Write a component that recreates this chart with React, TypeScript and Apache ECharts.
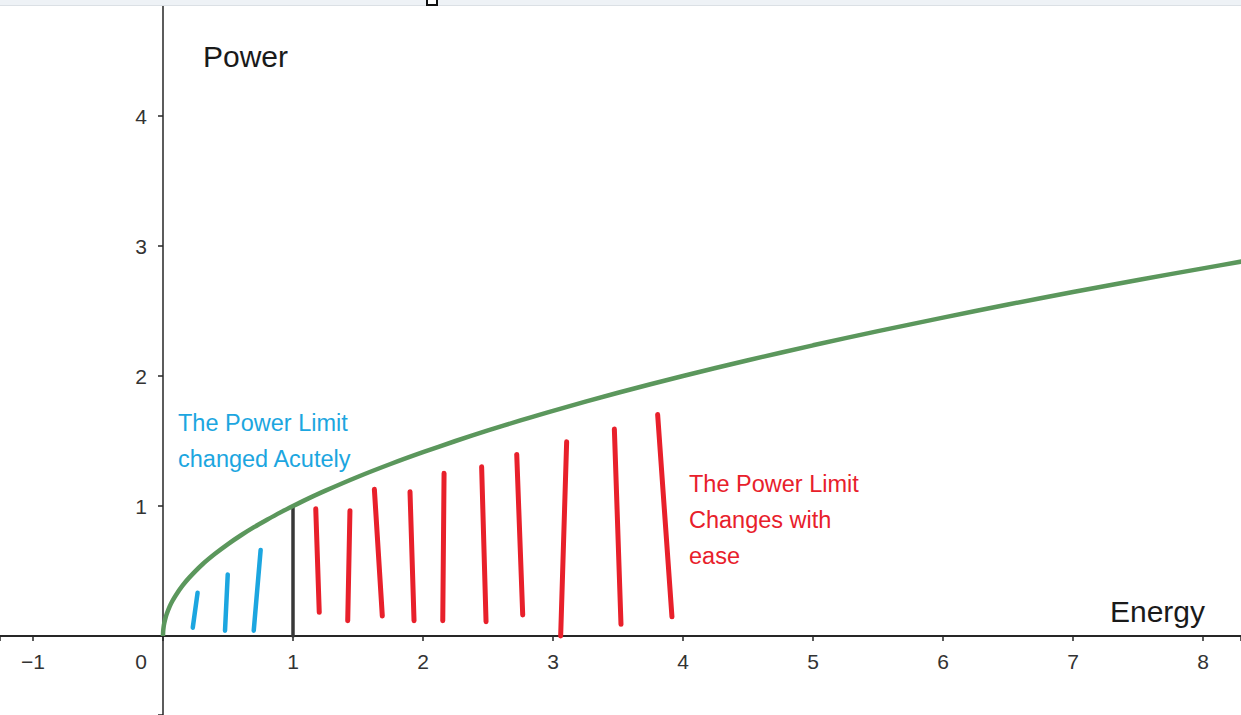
import { useEffect, useRef } from "react";
import * as echarts from "echarts";

// green curve (Energy, Power)
const curveX = [0, 0.001, 0.005, 0.01, 0.02, 0.03, 0.05, 0.07, 0.1, 0.15, 0.2, 0.3, 0.4, 0.5, 0.6, 0.7, 0.8, 0.9, 1, 1.1, 1.25, 1.5, 1.75, 2, 2.25, 2.5, 2.75, 3, 3.5, 4, 4.5, 5, 5.5, 6, 6.5, 7, 7.5, 8, 8.3];
const curveY = [0, 0.032, 0.071, 0.1, 0.141, 0.173, 0.224, 0.265, 0.316, 0.387, 0.447, 0.548, 0.632, 0.707, 0.775, 0.837, 0.894, 0.949, 1, 1.049, 1.118, 1.225, 1.323, 1.414, 1.5, 1.581, 1.658, 1.732, 1.871, 2, 2.121, 2.236, 2.345, 2.449, 2.55, 2.646, 2.739, 2.828, 2.881];

// hand-drawn strokes: [topX, topY, bottomX, bottomY]
const blueStrokes = [
  [0.266, 0.333, 0.229, 0.064],
  [0.498, 0.474, 0.477, 0.041],
  [0.751, 0.662, 0.698, 0.041],
];
const blackStrokes = [[1.0, 0.99, 1.0, 0]];
const redStrokes = [
  [1.175, 0.979, 1.202, 0.182],
  [1.438, 0.964, 1.421, 0.118],
  [1.626, 1.128, 1.687, 0.154],
  [1.9, 1.11, 1.931, 0.118],
  [2.162, 1.251, 2.152, 0.118],
  [2.451, 1.302, 2.485, 0.11],
  [2.721, 1.397, 2.767, 0.162],
  [3.105, 1.494, 3.059, 0],
  [3.472, 1.592, 3.523, 0.09],
  [3.805, 1.703, 3.915, 0.148],
];

const xRange = [-1.25385, 8.29231];
const yRange = [-0.60769, 4.89231];

const FONT = 'Arial, "Liberation Sans", sans-serif';
const BLUE = "#1ca6e0";
const RED = "#e8202b";
const GREEN = "#5b975c";
const AXIS = "#262626";

const isInt = (v: number) => Math.abs(v - Math.round(v)) < 1e-6;

const strokeSeries = (list: number[][], color: string, width: number) =>
  list.map((s) => ({
    type: "line",
    data: [
      [s[0], s[1]],
      [s[2], s[3]],
    ],
    showSymbol: false,
    silent: true,
    lineStyle: { color, width, cap: "round" },
    z: 3,
  }));

const App: React.FC = () => {
  const chartRef = useRef<HTMLDivElement>(null);

  useEffect(() => {
    if (!chartRef.current) return;
    const myChart = echarts.init(chartRef.current, null, { renderer: "svg" });

    const option = {
      animation: false,
      backgroundColor: "#ffffff",
      grid: { left: 0, right: 0, top: 0, bottom: 0, containLabel: false, outerBoundsMode: "none" },
      xAxis: {
        type: "value",
        min: xRange[0],
        max: xRange[1],
        splitNumber: 10,
        position: "bottom",
        offset: -79,
        axisLine: { onZero: false, lineStyle: { color: AXIS, width: 2 } },
        axisTick: { show: true, length: 5, lineStyle: { color: AXIS, width: 1.5 } },
        splitLine: { show: false },
        axisLabel: {
          margin: 25,
          verticalAlign: "middle",
          fontFamily: FONT,
          fontSize: 21,
          color: "#333333",
          formatter: (v: number) => {
            if (!isInt(v)) return "";
            const r = Math.round(v);
            if (r === 0) return "{z|0}";
            return r < 0 ? "\u2212" + -r : String(r);
          },
          rich: {
            z: { fontFamily: FONT, fontSize: 21, color: "#333333", padding: [0, 44, 0, 0] },
          },
        },
      },
      yAxis: {
        type: "value",
        min: yRange[0],
        max: yRange[1],
        splitNumber: 5,
        position: "left",
        offset: -163,
        axisLine: { onZero: false, lineStyle: { color: AXIS, width: 1.5 } },
        axisTick: { show: true, length: 5, lineStyle: { color: AXIS, width: 1.5 } },
        splitLine: { show: false },
        axisLabel: {
          margin: 16,
          fontFamily: FONT,
          fontSize: 21,
          color: "#333333",
          formatter: (v: number) => {
            if (!isInt(v)) return "";
            const r = Math.round(v);
            return r === 0 ? "" : String(r);
          },
        },
      },
      series: [
        ...strokeSeries(blueStrokes, BLUE, 4.5),
        ...strokeSeries(blackStrokes, "#383838", 3.5),
        ...strokeSeries(redStrokes, RED, 5),
        {
          type: "line",
          data: curveX.map((x, i) => [x, curveY[i]]),
          showSymbol: false,
          smooth: 0.3,
          silent: true,
          lineStyle: { color: GREEN, width: 4.5 },
          z: 4,
        },
      ],
      graphic: [
        {
          type: "text",
          x: 203,
          y: 56,
          style: {
            text: "Power",
            fontFamily: FONT,
            fontSize: 30,
            fill: "#1a1a1a",
            align: "left",
            verticalAlign: "middle",
          },
        },
        {
          type: "text",
          x: 1205,
          y: 611,
          style: {
            text: "Energy",
            fontFamily: FONT,
            fontSize: 30,
            fill: "#1a1a1a",
            align: "right",
            verticalAlign: "middle",
          },
        },
        {
          type: "text",
          left: 178,
          top: 405,
          style: {
            text: "The Power Limit\nchanged Acutely",
            fontFamily: FONT,
            fontSize: 23.5,
            lineHeight: 36,
            fill: BLUE,
          },
        },
        {
          type: "text",
          left: 689,
          top: 466,
          style: {
            text: "The Power Limit\nChanges with\nease",
            fontFamily: FONT,
            fontSize: 23.5,
            lineHeight: 36,
            fill: RED,
          },
        },
        {
          type: "rect",
          shape: { x: 0, y: 0, width: 1241, height: 5 },
          style: { fill: "#eef2f6" },
          z: 10,
        },
        {
          type: "line",
          shape: { x1: 0, y1: 5.5, x2: 1241, y2: 5.5 },
          style: { stroke: "#dbe0e5", lineWidth: 1 },
          z: 10,
        },
        {
          type: "rect",
          shape: { x: 427, y: -3, width: 10, height: 8 },
          style: { fill: "#ffffff", stroke: "#111111", lineWidth: 2 },
          z: 11,
        },
      ],
    };

    myChart.setOption(option);

    return () => {
      myChart.dispose();
    };
  }, []);

  return (
    <div
      ref={chartRef}
      style={{ position: "fixed", left: 0, top: 0, width: "1241px", height: "715px", background: "#fff" }}
    />
  );
};

export default App;
